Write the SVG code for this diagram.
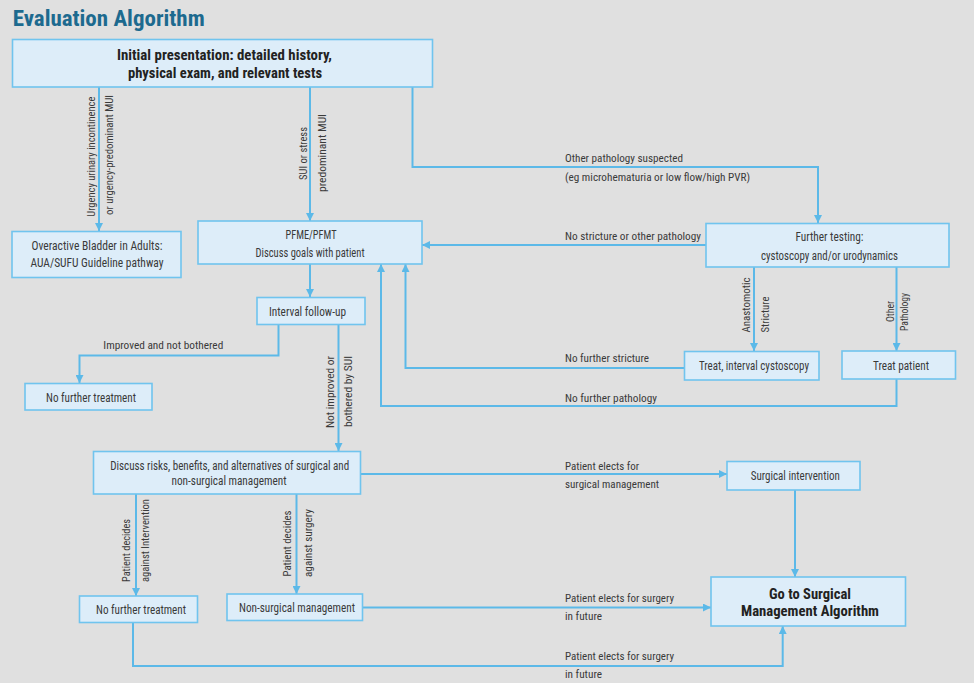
<svg xmlns="http://www.w3.org/2000/svg" width="974" height="683" viewBox="0 0 974 683">
<style>
.bg{fill:#e0e0e0}
.box{fill:#ddedf9;stroke:#70c4ee;stroke-width:1.6}
.ln{fill:none;stroke:#5cb9e8;stroke-width:2;marker-end:url(#ah)}
.ln2{fill:none;stroke:#5cb9e8;stroke-width:2}
text{font-family:"Liberation Sans Narrow","Roboto Condensed","DejaVu Sans Condensed","Liberation Sans",sans-serif;fill:#3a3a3a;font-size:11.5px}
.t{font-size:12px;text-anchor:middle}
.b{font-size:14px;font-weight:bold;text-anchor:middle;fill:#222}
.r{text-anchor:middle}
.s{font-size:10px;text-anchor:middle}
.title{font-size:22px;font-weight:bold;fill:#1d6a8f}
</style>
<defs>
<marker id="ah" viewBox="0 0 10 10" refX="10" refY="5" markerWidth="9" markerHeight="8" markerUnits="userSpaceOnUse" orient="auto">
<path d="M0,0 L10,5 L0,10 z" fill="#5cb9e8"/>
</marker>
</defs>
<rect class="bg" x="0" y="0" width="974" height="683"/>
<text class="title" x="12.7" y="25.5" textLength="192" lengthAdjust="spacingAndGlyphs">Evaluation Algorithm</text>

<g id="connectors">
<path class="ln" d="M99,87 V231"/>
<path class="ln" d="M310,87 V221"/>
<path class="ln" d="M412.5,87 V167 H818 V223"/>
<path class="ln" d="M706,245 H422"/>
<path class="ln" d="M310,264 V297"/>
<path class="ln" d="M278.5,324 V355.5 H79.5 V383"/>
<path class="ln" d="M338.5,324 V451"/>
<path class="ln" d="M754,267 V351"/>
<path class="ln" d="M896.5,267 V351"/>
<path class="ln" d="M684.5,368 H405.5 V264"/>
<path class="ln" d="M896.5,379 V406 H381 V264"/>
<path class="ln" d="M360.5,474 H727"/>
<path class="ln" d="M795,490 V577"/>
<path class="ln" d="M136,494 V596"/>
<path class="ln" d="M296.5,494 V594"/>
<path class="ln" d="M362.5,607.5 H711"/>
<path class="ln" d="M133,622.5 V666 H782.7 V626"/>

<text class="r" transform="rotate(-90)" x="-156.7" y="94.5" textLength="120" lengthAdjust="spacingAndGlyphs">Urgency urinary incontinence</text>
<text class="r" transform="rotate(-90)" x="-155" y="113" textLength="120" lengthAdjust="spacingAndGlyphs">or urgency-predominant MUI</text>
<text class="r" transform="rotate(-90)" x="-153.5" y="306.5" textLength="53" lengthAdjust="spacingAndGlyphs">SUI or stress</text>
<text class="r" transform="rotate(-90)" x="-153" y="325.5" textLength="78" lengthAdjust="spacingAndGlyphs">predominant MUI</text>
<text x="565" y="161.5" textLength="118" lengthAdjust="spacingAndGlyphs">Other pathology suspected</text>
<text x="565" y="180.5" textLength="185" lengthAdjust="spacingAndGlyphs">(eg microhematuria or low flow/high PVR)</text>
<text x="565" y="239.5" textLength="136" lengthAdjust="spacingAndGlyphs">No stricture or other pathology</text>
<text x="103.3" y="349" textLength="120" lengthAdjust="spacingAndGlyphs">Improved and not bothered</text>
<text class="r" transform="rotate(-90)" x="-392" y="334" textLength="72" lengthAdjust="spacingAndGlyphs">Not improved or</text>
<text class="r" transform="rotate(-90)" x="-391.5" y="352" textLength="71" lengthAdjust="spacingAndGlyphs">bothered by SUI</text>
<text class="r" transform="rotate(-90)" x="-305" y="749.5" textLength="55" lengthAdjust="spacingAndGlyphs">Anastomotic</text>
<text class="r" transform="rotate(-90)" x="-314.5" y="769" textLength="36" lengthAdjust="spacingAndGlyphs">Stricture</text>
<text class="s" transform="rotate(-90)" x="-311.5" y="893.5" textLength="21" lengthAdjust="spacingAndGlyphs">Other</text>
<text class="s" transform="rotate(-90)" x="-312" y="908" textLength="38" lengthAdjust="spacingAndGlyphs">Pathology</text>
<text x="565" y="362" textLength="84" lengthAdjust="spacingAndGlyphs">No further stricture</text>
<text x="565" y="402" textLength="92" lengthAdjust="spacingAndGlyphs">No further pathology</text>
<text x="565" y="470" textLength="74" lengthAdjust="spacingAndGlyphs">Patient elects for</text>
<text x="565" y="488" textLength="94" lengthAdjust="spacingAndGlyphs">surgical management</text>
<text class="r" transform="rotate(-90)" x="-550.5" y="129.5" textLength="63" lengthAdjust="spacingAndGlyphs">Patient decides</text>
<text class="r" transform="rotate(-90)" x="-540.5" y="149" textLength="83" lengthAdjust="spacingAndGlyphs">against Intervention</text>
<text class="r" transform="rotate(-90)" x="-543.5" y="291" textLength="66" lengthAdjust="spacingAndGlyphs">Patient decides</text>
<text class="r" transform="rotate(-90)" x="-543" y="311.5" textLength="68" lengthAdjust="spacingAndGlyphs">against surgery</text>
<text x="565" y="601.5" textLength="109" lengthAdjust="spacingAndGlyphs">Patient elects for surgery</text>
<text x="565" y="620" textLength="37" lengthAdjust="spacingAndGlyphs">in future</text>
<text x="565" y="660" textLength="109" lengthAdjust="spacingAndGlyphs">Patient elects for surgery</text>
<text x="565" y="677.5" textLength="37" lengthAdjust="spacingAndGlyphs">in future</text>
</g>

<g id="initial">
<rect class="box" x="12.5" y="39.5" width="420" height="47.5"/>
<text class="b" x="224.5" y="59.5" textLength="215" lengthAdjust="spacingAndGlyphs">Initial presentation: detailed history,</text>
<text class="b" x="225" y="77.5" textLength="194" lengthAdjust="spacingAndGlyphs">physical exam, and relevant tests</text>
</g>
<g id="overactive">
<rect class="box" x="12" y="231.5" width="169" height="46"/>
<text class="t" x="97" y="250" textLength="131" lengthAdjust="spacingAndGlyphs">Overactive Bladder in Adults:</text>
<text class="t" x="97" y="267" textLength="133" lengthAdjust="spacingAndGlyphs">AUA/SUFU Guideline pathway</text>
</g>
<g id="pfme">
<rect class="box" x="198" y="221" width="224" height="43"/>
<text class="t" x="311" y="239" textLength="51" lengthAdjust="spacingAndGlyphs">PFME/PFMT</text>
<text class="t" x="310" y="257" textLength="109" lengthAdjust="spacingAndGlyphs">Discuss goals with patient</text>
</g>
<g id="further">
<rect class="box" x="706" y="223.5" width="243" height="43.5"/>
<text class="t" x="829.5" y="241" textLength="68" lengthAdjust="spacingAndGlyphs">Further testing:</text>
<text class="t" x="829.5" y="260" textLength="137" lengthAdjust="spacingAndGlyphs">cystoscopy and/or urodynamics</text>
</g>
<g id="interval">
<rect class="box" x="257" y="297.5" width="108" height="27"/>
<text class="t" x="307.5" y="316" textLength="77" lengthAdjust="spacingAndGlyphs">Interval follow-up</text>
</g>
<g id="nft1">
<rect class="box" x="25" y="383.5" width="127" height="26.5"/>
<text class="t" x="91" y="401.5" textLength="90" lengthAdjust="spacingAndGlyphs">No further treatment</text>
</g>
<g id="treat-cysto">
<rect class="box" x="684.5" y="351.5" width="134.5" height="28.5"/>
<text class="t" x="754" y="370" textLength="110" lengthAdjust="spacingAndGlyphs">Treat, interval cystoscopy</text>
</g>
<g id="treat-patient">
<rect class="box" x="842" y="351" width="113.5" height="28"/>
<text class="t" x="901" y="370" textLength="56" lengthAdjust="spacingAndGlyphs">Treat patient</text>
</g>
<g id="discuss">
<rect class="box" x="93.5" y="451.5" width="267" height="42.5"/>
<text class="t" x="229.7" y="470" textLength="239" lengthAdjust="spacingAndGlyphs">Discuss risks, benefits, and alternatives of surgical and</text>
<text class="t" x="229" y="485" textLength="115" lengthAdjust="spacingAndGlyphs">non-surgical management</text>
</g>
<g id="surgical-intervention">
<rect class="box" x="727" y="461.5" width="133" height="28.5"/>
<text class="t" x="795.3" y="480" textLength="89" lengthAdjust="spacingAndGlyphs">Surgical intervention</text>
</g>
<g id="goto">
<rect class="box" x="711" y="577" width="194.5" height="49"/>
<text class="b" x="810" y="599" textLength="82" lengthAdjust="spacingAndGlyphs">Go to Surgical</text>
<text class="b" x="810" y="616" textLength="138" lengthAdjust="spacingAndGlyphs">Management Algorithm</text>
</g>
<g id="nft2">
<rect class="box" x="79.5" y="596" width="118" height="26.5"/>
<text class="t" x="141" y="613.5" textLength="90" lengthAdjust="spacingAndGlyphs">No further treatment</text>
</g>
<g id="nonsurg">
<rect class="box" x="227" y="594" width="135.5" height="26.5"/>
<text class="t" x="297" y="611.5" textLength="116" lengthAdjust="spacingAndGlyphs">Non-surgical management</text>
</g>
</svg>
